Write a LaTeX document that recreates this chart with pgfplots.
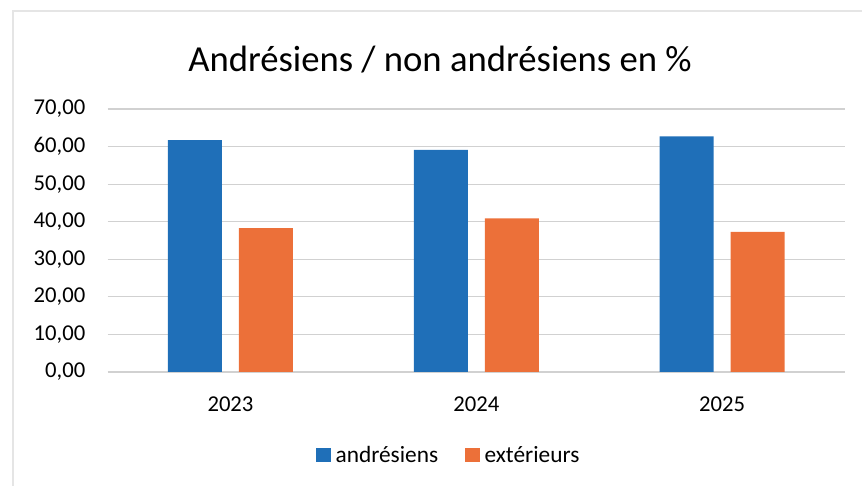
\documentclass[border=0pt]{standalone}
\usepackage{pgfplots}
\pgfplotsset{compat=1.18}
\usepackage{fontspec}
\setmainfont{Carlito}
\definecolor{cblue}{HTML}{1F6FB8}
\definecolor{corange}{HTML}{EC7039}
\begin{document}
\begin{tikzpicture}[x=0.75pt,y=0.75pt]
\path[use as bounding box] (0,0) rectangle (862,488);
\draw[black!10, line width=0.9pt] (13,2) -- (13,477) -- (862,477);
\node[anchor=base, inner sep=0pt, font=\fontsize{27.5}{33}\selectfont] at (440,416) {Andrésiens / non andrésiens en \%};
\begin{axis}[
  at={(80.7pt,87pt)}, anchor=south west,
  scale only axis, width=553pt, height=197.25pt,
  xmin=-0.5, xmax=2.5, ymin=0, ymax=70,
  ybar=12.75pt, bar width=40.5pt,
  xtick={0,1,2}, xticklabels={2023,2024,2025},
  ytick={0,10,...,70},
  ymajorgrids, grid style={black!18, line width=0.8pt},
  axis line style={draw=none},
  major tick length=0pt,
  tick label style={font=\fontsize{17}{21}\selectfont},
  /pgf/number format/assume math mode=true,
  yticklabel={\pgfmathprintnumber[fixed, fixed zerofill, precision=2, use comma]{\tick}},
  yticklabel style={anchor=east, inner sep=0pt, xshift=-16.5pt},
  xticklabel style={anchor=center, inner sep=0pt, yshift=-24.5pt},
  legend columns=2,
  legend style={at={(0.463,-0.3156)}, anchor=center, draw=none, fill=none,
    font=\fontsize{17.5}{21}\selectfont,
    /tikz/every even column/.append style={column sep=18pt},
    /tikz/every odd column/.append style={column sep=1.5pt},
    inner sep=0pt},
  legend image code/.code={\fill[#1] (0pt,-5.6pt) rectangle (11.25pt,5.6pt);},
]
\addplot[fill=cblue, draw=none] coordinates {(0,61.7) (1,59.1) (2,62.7)};
\addplot[fill=corange, draw=none] coordinates {(0,38.3) (1,40.9) (2,37.3)};
\legend{andrésiens, extérieurs}
\end{axis}
\end{tikzpicture}
\end{document}
